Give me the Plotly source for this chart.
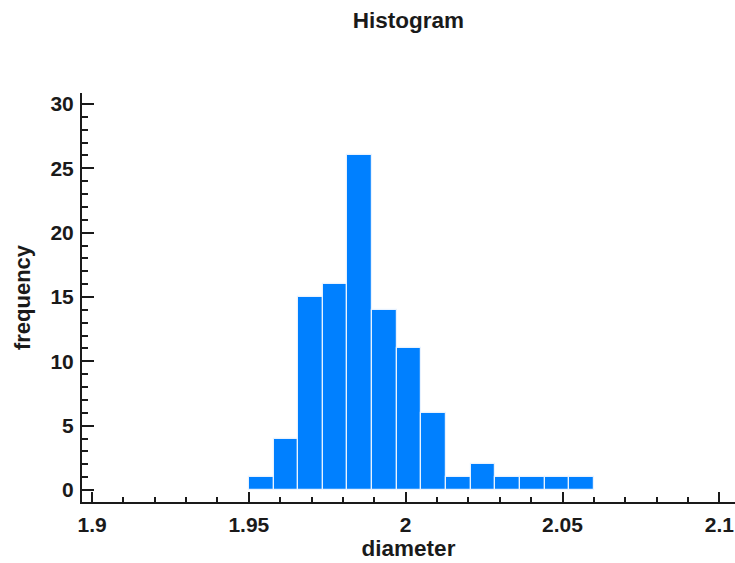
import numpy as np
import plotly.graph_objects as go

# Class limits and frequency counts for the diameter histogram
lower_limit = 1.95
upper_limit = 2.06
n_classes = 14
frequencies = [1, 4, 15, 16, 26, 14, 11, 6, 1, 2, 1, 1, 1, 1]

x_tick_vals = [1.9, 1.95, 2.0, 2.05, 2.1]
x_tick_text = ["1.9", "1.95", "2", "2.05", "2.1"]
y_tick_vals = [0, 5, 10, 15, 20, 25, 30]

edges = np.linspace(lower_limit, upper_limit, n_classes + 1)
centers = (edges[:-1] + edges[1:]) / 2
width = edges[1] - edges[0]

font_family = "Liberation Sans, Arial, sans-serif"
ink = "#1a1a1a"

fig = go.Figure(
    go.Bar(
        x=centers,
        y=frequencies,
        width=width,
        marker=dict(color="#0080FF", line=dict(color="#e8f2ff", width=1.2)),
        hoverinfo="x+y",
    )
)

fig.update_layout(
    width=735,
    height=563,
    margin=dict(l=82, r=0, t=93, b=61),
    paper_bgcolor="white",
    plot_bgcolor="white",
    showlegend=False,
    bargap=0,
    title=dict(
        text="Histogram",
        x=0.5,
        xref="paper",
        y=1 - 20 / 563,
        yanchor="middle",
        font=dict(family=font_family, size=22.5, color=ink, weight="bold"),
    ),
    xaxis=dict(
        range=[1.8968, 2.105],
        tickvals=x_tick_vals,
        ticktext=x_tick_text,
        ticks="inside",
        ticklen=10,
        tickwidth=2,
        tickcolor=ink,
        minor=dict(dtick=0.01, tick0=1.9, ticks="inside", ticklen=5, tickwidth=2, tickcolor=ink),
        showline=True,
        linecolor=ink,
        linewidth=2,
        showgrid=False,
        zeroline=False,
        tickfont=dict(family=font_family, size=21, color=ink, weight="bold"),
        ticklabelstandoff=3,
        title=dict(
            text="diameter",
            font=dict(family=font_family, size=22.5, color=ink, weight="bold"),
            standoff=2,
        ),
    ),
    yaxis=dict(
        range=[-0.93, 30.85],
        tickvals=y_tick_vals,
        ticks="inside",
        ticklen=12,
        tickwidth=2,
        tickcolor=ink,
        minor=dict(dtick=1, tick0=0, ticks="inside", ticklen=6, tickwidth=2, tickcolor=ink),
        showline=True,
        linecolor=ink,
        linewidth=2,
        showgrid=False,
        zeroline=False,
        tickfont=dict(family=font_family, size=21, color=ink, weight="bold"),
        ticklabelstandoff=2,
        title=dict(
            text="frequency",
            font=dict(family=font_family, size=22, color=ink, weight="bold"),
            standoff=14,
        ),
    ),
)

fig.write_html("out.html")
